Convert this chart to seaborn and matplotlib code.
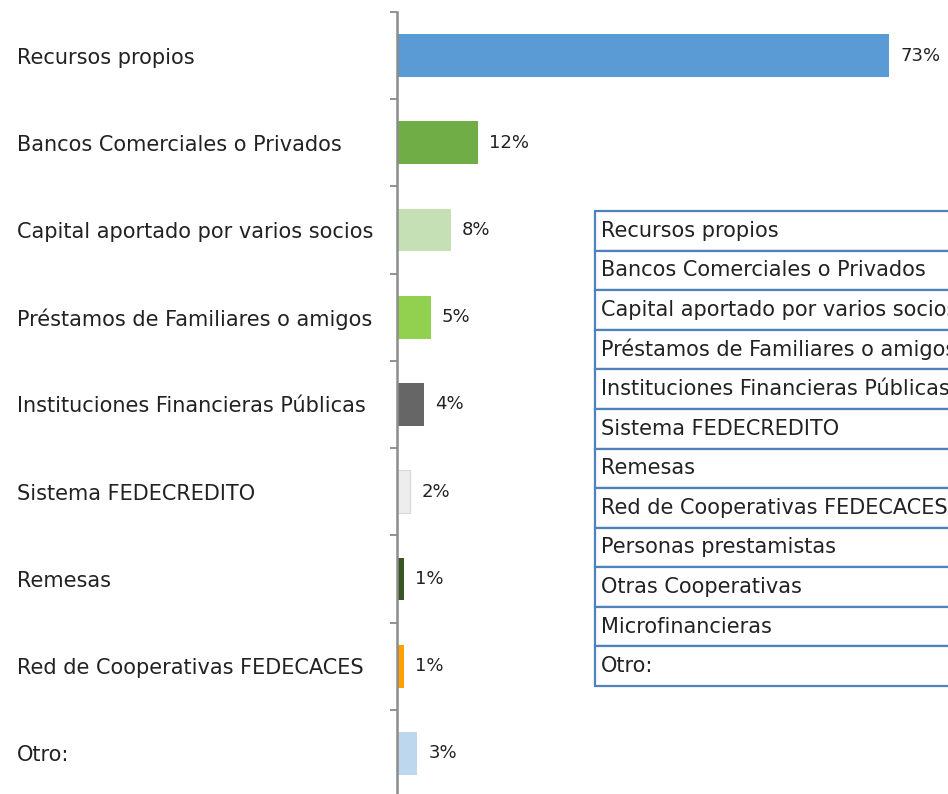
import matplotlib
matplotlib.use("Agg")
import matplotlib.pyplot as plt
import seaborn as sns
import pandas as pd

categories = [
    "Recursos propios",
    "Bancos Comerciales o Privados",
    "Capital aportado por varios socios",
    "Préstamos de Familiares o amigos",
    "Instituciones Financieras Públicas",
    "Sistema FEDECREDITO",
    "Remesas",
    "Red de Cooperativas FEDECACES",
    "Otro:",
]
values = [73, 12, 8, 5, 4, 2, 1, 1, 3]
colors = ["#5B9BD5", "#70AD47", "#C5E0B4", "#92D050", "#666666",
          "#EDEDED", "#375623", "#FFA000", "#BDD7EE"]

table_rows = [
    "Recursos propios",
    "Bancos Comerciales o Privados",
    "Capital aportado por varios socios",
    "Préstamos de Familiares o amigos",
    "Instituciones Financieras Públicas",
    "Sistema FEDECREDITO",
    "Remesas",
    "Red de Cooperativas FEDECACES",
    "Personas prestamistas",
    "Otras Cooperativas",
    "Microfinancieras",
    "Otro:",
]

sns.set_theme(style="white")
plt.rcParams["font.family"] = ["DejaVu Sans"]

W, H = 948, 794
fig = plt.figure(figsize=(W / 100, H / 100), dpi=100)

ax_left = 397 / W
ax_top = 1 - 12 / H
ax_bot = 1 - 797 / H
ax = fig.add_axes([ax_left, ax_bot, 1 - ax_left, ax_top - ax_bot])

df = pd.DataFrame({"cat": categories, "val": values})
sns.barplot(data=df, x="val", y="cat", hue="cat", palette=colors,
            saturation=1, legend=False, width=0.49, orient="h", ax=ax,
            edgecolor="none")
# slight outline for the very light bar
ax.patches[5].set_edgecolor("#D9D9D9")
ax.patches[5].set_linewidth(0.8)

ax.set_xlim(0, (W - 397) / 6.74)
ax.set_ylim(len(categories) - 0.5, -0.5)
ax.set_xlabel("")
ax.set_ylabel("")
ax.set_xticks([])

for i, v in enumerate(values):
    ax.annotate(f"{v}%", xy=(v, i), xytext=(8, 0), textcoords="offset points",
                va="center", ha="left", fontsize=13, color="#222222")

# category labels left aligned near the figure edge
ax.set_yticks(range(len(categories)))
ax.set_yticklabels(categories, ha="left", fontsize=15, color="#222222")
ax.tick_params(axis="y", which="major", length=0, pad=(397 - 17) * 0.72)
ax.set_yticks([i - 0.5 for i in range(len(categories) + 1)], minor=True)
ax.tick_params(axis="y", which="minor", left=True, length=5, width=1.2,
               color="#7F7F7F")

for s in ["top", "right", "bottom"]:
    ax.spines[s].set_visible(False)
ax.spines["left"].set_color("#8C8C8C")
ax.spines["left"].set_linewidth(1.8)

# side table (clipped at the right)
ov = fig.add_axes([0, 0, 1, 1])
ov.set_axis_off()
ov.set_xlim(0, 1)
ov.set_ylim(0, 1)
x0 = 595 / W
top = 1 - 211 / H
bot = 1 - 686 / H
tw = 1.25 - x0
tbl = ov.table(cellText=[[r] for r in table_rows], cellLoc="left",
               bbox=[x0, bot, tw, top - bot])
tbl.auto_set_font_size(False)
tbl.set_fontsize(15)
for (r, c), cell in tbl.get_celld().items():
    cell.set_edgecolor("#4F81BD")
    cell.set_linewidth(1.6)
    cell.PAD = 6 / (tw * W)
    cell.get_text().set_color("#222222")

fig.savefig("out.png", dpi=100)
